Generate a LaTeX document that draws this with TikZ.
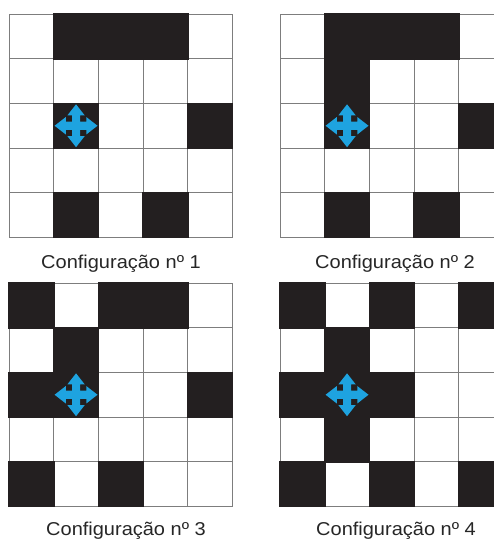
\documentclass[tikz,border=0pt]{standalone}
\usepackage{fontspec}
\setmainfont{Liberation Sans}
\definecolor{cellblack}{RGB}{35,31,32}
\definecolor{gridgray}{RGB}{125,125,125}
\definecolor{arrowblue}{RGB}{30,163,224}
\tikzset{
  gridline/.style={draw=gridgray, line width=0.9pt},
  blackcell/.style={fill=cellblack},
  movearrow/.style={fill=arrowblue},
  caption/.style={anchor=base, inner sep=0pt, font=\fontsize{18.6}{20}\selectfont, text=black!85}
}
\newcommand\cfggrid[3]{%
  \begin{scope}[shift={(#1,#2)}, x=44.7pt, y=-44.7pt]
    \fill[white] (0,0) rectangle (5,5);
    \foreach \i in {0,...,5} {
      \draw[gridline] (\i,0) -- (\i,5);
      \draw[gridline] (0,\i) -- (5,\i);
    }
    \foreach \c/\r in {#3} {
      \fill[blackcell] (\c-0.02,\r-0.02) rectangle (\c+1.02,\r+1.02);
    }
    \begin{scope}[shift={(1.5,2.5)}]
      \foreach \a in {0,90,180,270} {
        \fill[movearrow, rotate=\a] (-0.09,-0.09) -- (0.23,-0.09) -- (0.23,-0.195) -- (0.48,0) -- (0.23,0.195) -- (0.23,0.09) -- (-0.09,0.09) -- cycle;
      }
    \end{scope}
  \end{scope}%
}
\begin{document}
\begin{tikzpicture}[x=1pt, y=-1pt]
  \clip (0,0) rectangle (494,541);
  \fill[white] (0,0) rectangle (494,541);
  % Configuration 1
  \cfggrid{9}{14}{1/0,2/0,3/0,1/2,4/2,1/4,3/4}
  % Configuration 2
  \cfggrid{280}{14}{1/0,2/0,3/0,1/1,1/2,4/2,1/4,3/4}
  % Configuration 3
  \cfggrid{9}{283}{0/0,2/0,3/0,1/1,0/2,1/2,4/2,0/4,2/4}
  % Configuration 4
  \cfggrid{280}{283}{0/0,2/0,4/0,1/1,0/2,1/2,2/2,1/3,0/4,2/4,4/4}
  \node[caption] (c1) at (121,268) {\scalebox{1.075}[1]{Configuração nº 1}};
  \node[caption] (c2) at (395,268) {\scalebox{1.075}[1]{Configuração nº 2}};
  \node[caption] (c3) at (126,535) {\scalebox{1.075}[1]{Configuração nº 3}};
  \node[caption] (c4) at (396,535) {\scalebox{1.075}[1]{Configuração nº 4}};
\end{tikzpicture}
\end{document}
